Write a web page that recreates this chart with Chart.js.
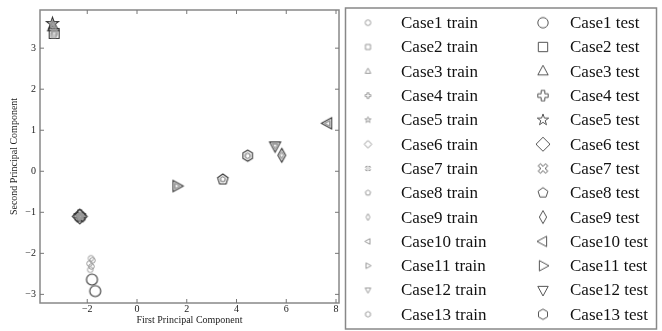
<!DOCTYPE html>
<html>
<head>
<meta charset="utf-8">
<script src="https://cdn.jsdelivr.net/npm/chart.js@4"></script>
<style>
  body { margin: 0; background: #fff; }
  canvas { display: block; }
</style>
</head>
<body>
<canvas id="pca" width="662" height="331"></canvas>
<script>
// cases, their marker shapes, and the points
const cases = ['Case1','Case2','Case3','Case4','Case5','Case6','Case7','Case8','Case9','Case10','Case11','Case12','Case13'];
const shapes = ['circle','square','triUp','plus','star','diamond','xcross','pentagon','thinDiamond','triLeft','triRight','triDown','hexagon'];

const trainX = [
  [-1.85, -1.79, -1.91, -1.83, -1.88],
  [-3.33, -3.31, -3.35],
  [-3.38, -3.35, -3.32],
  [-2.28, -2.33, -2.25],
  [-3.41, -3.39],
  [-2.28, -2.33],
  [-2.31, -2.26],
  [3.44, 3.46],
  [5.81, 5.83],
  [7.66, 7.68],
  [1.59, 1.61],
  [5.54, 5.56],
  [4.44, 4.46]
];
const trainY = [
  [-2.12, -2.17, -2.25, -2.32, -2.40],
  [3.35, 3.39, 3.32],
  [3.50, 3.55, 3.47],
  [-1.06, -1.11, -1.09],
  [3.61, 3.58],
  [-1.09, -1.12],
  [-1.08, -1.13],
  [-0.20, -0.19],
  [0.40, 0.38],
  [1.17, 1.16],
  [-0.36, -0.36],
  [0.63, 0.61],
  [0.38, 0.37]
];
const testX = [[-1.81, -1.68], [-3.33], [-3.37], [-2.30], [-3.40], [-2.30], [-2.29], [3.45], [5.82], [7.67], [1.60], [5.55], [4.45]];
const testY = [[-2.64, -2.92], [3.36], [3.52], [-1.08], [3.60], [-1.10], [-1.11], [-0.20], [0.39], [1.17], [-0.36], [0.62], [0.38]];

const xTickLabels = ['−2', '0', '2', '4', '6', '8'];
const yTickLabels = ['−3', '−2', '−1', '0', '1', '2', '3'];

const serif = '"Liberation Serif", "DejaVu Serif", serif';

function polyPoints(shape) {
  const a = 0.35, b = 0.3;
  switch (shape) {
    case 'triUp': return [[0,-1.15],[1,0.7],[-1,0.7]];
    case 'triDown': return [[0,1.15],[1,-0.7],[-1,-0.7]];
    case 'triLeft': return [[-1.15,0],[0.7,-1],[0.7,1]];
    case 'triRight': return [[1.15,0],[-0.7,-1],[-0.7,1]];
    case 'diamond': return [[0,-1.35],[1.35,0],[0,1.35],[-1.35,0]];
    case 'thinDiamond': return [[0,-1.25],[0.7,0],[0,1.25],[-0.7,0]];
    case 'plus': return [[-a,-1],[a,-1],[a,-a],[1,-a],[1,a],[a,a],[a,1],[-a,1],[-a,a],[-1,a],[-1,-a],[-a,-a]];
    case 'xcross': {
      const p = [[-b,-1],[b,-1],[b,-b],[1,-b],[1,b],[b,b],[b,1],[-b,1],[-b,b],[-1,b],[-1,-b],[-b,-b]];
      const c = Math.SQRT1_2;
      return p.map(([x, y]) => [(x - y) * c, (x + y) * c]);
    }
    case 'star': {
      const p = [];
      for (let i = 0; i < 10; i++) {
        const r = i % 2 ? 0.45 : 1.15, t = -Math.PI / 2 + i * Math.PI / 5;
        p.push([r * Math.cos(t), r * Math.sin(t)]);
      }
      return p;
    }
    case 'pentagon':
    case 'hexagon': {
      const n = shape === 'pentagon' ? 5 : 6, p = [];
      for (let i = 0; i < n; i++) {
        const t = -Math.PI / 2 + i * 2 * Math.PI / n;
        p.push([Math.cos(t), Math.sin(t)]);
      }
      return p;
    }
  }
  return null;
}

function makeMarker(shape, r, color, lw) {
  const s = Math.ceil(r * 3 + lw * 2 + 2);
  const c = document.createElement('canvas');
  c.width = c.height = s;
  const g = c.getContext('2d');
  g.translate(s / 2, s / 2);
  g.strokeStyle = color;
  g.lineWidth = lw;
  g.beginPath();
  if (shape === 'circle') {
    g.arc(0, 0, r, 0, Math.PI * 2);
  } else if (shape === 'square') {
    g.rect(-r * 0.9, -r * 0.9, r * 1.8, r * 1.8);
  } else {
    polyPoints(shape).forEach(([x, y], i) => i ? g.lineTo(x * r, y * r) : g.moveTo(x * r, y * r));
    g.closePath();
  }
  g.stroke();
  return c;
}

const trainMarks = shapes.map(s => makeMarker(s, 2.8, '#999', 1));
const testMarks = shapes.map(s => makeMarker(s, 5.5, '#333', 1.1));
const legendTrain = shapes.map(s => makeMarker(s, 2.8, '#999', 1));
const legendTest = shapes.map(s => makeMarker(s, 5.2, '#555', 1));

const datasets = [];
cases.forEach((name, i) => {
  datasets.push({
    label: name + ' train',
    data: trainX[i].map((x, j) => ({ x: x, y: trainY[i][j] })),
    pointStyle: trainMarks[i],
    pointRadius: 4
  });
});
cases.forEach((name, i) => {
  datasets.push({
    label: name + ' test',
    data: testX[i].map((x, j) => ({ x: x, y: testY[i][j] })),
    pointStyle: testMarks[i],
    pointRadius: 6
  });
});

function line(ctx, x1, y1, x2, y2) {
  ctx.beginPath();
  ctx.moveTo(x1, y1);
  ctx.lineTo(x2, y2);
  ctx.stroke();
}

// box round the axes, inward ticks and the two-column legend
const framePlugin = {
  id: 'frame',
  afterDraw(chart) {
    const ctx = chart.ctx, a = chart.chartArea;
    const xs = chart.scales.x, ys = chart.scales.y;
    ctx.save();
    ctx.strokeStyle = '#888';
    ctx.lineWidth = 1.5;
    ctx.strokeRect(a.left, a.top, a.right - a.left, a.bottom - a.top);
    ctx.lineWidth = 1;
    ctx.strokeStyle = '#777';
    xs.ticks.forEach(t => {
      const px = xs.getPixelForValue(t.value);
      line(ctx, px, a.bottom, px, a.bottom - 4);
      line(ctx, px, a.top, px, a.top + 4);
    });
    ys.ticks.forEach(t => {
      const py = ys.getPixelForValue(t.value);
      line(ctx, a.left, py, a.left + 4, py);
      line(ctx, a.right, py, a.right - 4, py);
    });

    // legend
    ctx.strokeStyle = '#888';
    ctx.lineWidth = 1.5;
    ctx.strokeRect(345.5, 8, 311, 321);
    ctx.font = '17px ' + serif;
    ctx.fillStyle = '#111';
    ctx.textBaseline = 'middle';
    cases.forEach((name, i) => {
      const y = 22.7 + i * 24.3;
      const m1 = legendTrain[i], m2 = legendTest[i];
      ctx.drawImage(m1, 368 - m1.width / 2, y - m1.height / 2);
      ctx.fillText(name + ' train', 401, y + 1);
      ctx.drawImage(m2, 543 - m2.width / 2, y - m2.height / 2);
      ctx.fillText(name + ' test', 570, y + 1);
    });
    ctx.restore();
  }
};

new Chart(document.getElementById('pca'), {
  type: 'scatter',
  data: { datasets: datasets },
  options: {
    responsive: false,
    devicePixelRatio: 1,
    animation: false,
    layout: { padding: { left: 0, top: 8, right: 323, bottom: 0 } },
    plugins: { legend: { display: false }, tooltip: { enabled: false } },
    scales: {
      x: {
        min: -3.9,
        max: 8.12,
        afterFit(scale) { scale.height = 28; },
        grid: { display: false, drawTicks: false },
        border: { display: false },
        ticks: {
          stepSize: 2,
          includeBounds: false,
          maxRotation: 0,
          padding: 0,
          color: '#222',
          font: { family: serif, size: 10 },
          callback: (v) => xTickLabels[[-2, 0, 2, 4, 6, 8].indexOf(v)]
        },
        title: {
          display: true,
          text: 'First Principal Component',
          color: '#222',
          font: { family: serif, size: 10 },
          padding: { top: 0, bottom: 5 }
        }
      },
      y: {
        min: -3.21,
        max: 3.93,
        afterFit(scale) { scale.width = 40; },
        grid: { display: false, drawTicks: false },
        border: { display: false },
        ticks: {
          stepSize: 1,
          includeBounds: false,
          padding: 4,
          color: '#222',
          font: { family: serif, size: 10 },
          callback: (v) => yTickLabels[[-3, -2, -1, 0, 1, 2, 3].indexOf(v)]
        },
        title: {
          display: true,
          text: 'Second Principal Component',
          color: '#222',
          font: { family: serif, size: 10 },
          padding: { top: 8, bottom: 0 }
        }
      }
    }
  },
  plugins: [framePlugin]
});
</script>
</body>
</html>
